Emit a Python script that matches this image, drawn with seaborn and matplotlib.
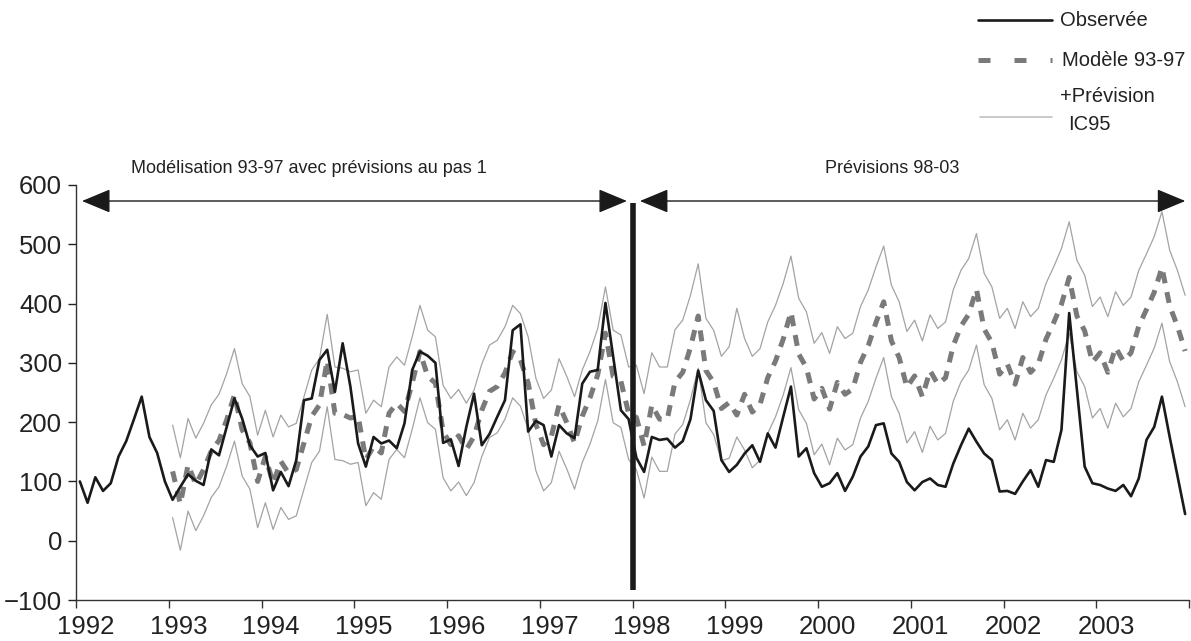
import numpy as np
import pandas as pd
import matplotlib
matplotlib.use("Agg")
import matplotlib.pyplot as plt
import seaborn as sns
from matplotlib.patches import FancyArrowPatch
from matplotlib.lines import Line2D

# Monthly series, Jan 1992 - Dec 2003
first_year = 1992
last_year = 2003
model_start = "1993-01"
split_year = 1998

obs = [
    100, 64, 107, 84, 97, 142, 168, 205, 243, 175, 148, 100,   # 1992
    69, 91, 112, 101, 94, 154, 144, 192, 240, 206, 161, 142,   # 1993
    148, 85, 116, 92, 136, 237, 240, 305, 322, 251, 333, 260,  # 1994
    164, 125, 175, 164, 169, 156, 198, 288, 319, 312, 300, 165,  # 1995
    171, 126, 192, 248, 161, 180, 209, 237, 355, 365, 184, 202,  # 1996
    195, 142, 195, 181, 173, 265, 285, 288, 401, 310, 220, 205,  # 1997
    140, 116, 175, 170, 172, 157, 168, 205, 287, 237, 219, 136,  # 1998
    116, 128, 147, 161, 133, 181, 157, 209, 260, 142, 156, 114,  # 1999
    91, 97, 114, 84, 108, 142, 159, 195, 198, 147, 133, 99,    # 2000
    85, 99, 105, 94, 91, 130, 161, 189, 167, 147, 136, 83,     # 2001
    84, 79, 100, 119, 91, 136, 133, 187, 384, 255, 125, 97,    # 2002
    94, 88, 84, 94, 75, 105, 170, 192, 243, 175, 110, 45,      # 2003
]

# Model 93-97 (one-step) + forecast 98-03, Jan 1993 - Dec 2003
model = [
    117, 62, 128, 95, 120, 151, 169, 204, 246, 187, 165, 100,
    142, 97, 134, 114, 120, 165, 210, 229, 304, 215, 213, 207,
    210, 137, 159, 148, 215, 232, 218, 266, 319, 277, 266, 184,
    162, 177, 154, 176, 220, 252, 260, 283, 319, 305, 266, 196,
    162, 176, 229, 199, 165, 210, 241, 280, 350, 277, 269, 215,
    208, 160, 229, 205, 205, 268, 284, 326, 379, 287, 267, 223,
    233, 212, 247, 217, 230, 275, 303, 340, 386, 315, 292, 239,
    257, 222, 267, 247, 256, 301, 329, 368, 403, 337, 309, 259,
    278, 243, 287, 264, 275, 329, 362, 382, 424, 357, 334, 281,
    298, 264, 309, 284, 298, 340, 368, 399, 444, 379, 354, 301,
    317, 284, 326, 303, 317, 362, 390, 419, 461, 396, 362, 320,
]

ic_high = [
    195, 140, 206, 173, 198, 229, 247, 282, 324, 265, 243, 178,
    220, 175, 212, 192, 198, 243, 288, 307, 382, 293, 291, 285,
    288, 215, 237, 226, 293, 310, 296, 344, 397, 355, 344, 262,
    240, 255, 232, 254, 298, 330, 338, 361, 397, 383, 344, 274,
    240, 254, 307, 277, 243, 288, 319, 358, 428, 355, 347, 293,
    296, 248, 317, 293, 293, 356, 372, 414, 467, 375, 355, 311,
    327, 392, 341, 311, 324, 369, 397, 434, 480, 409, 386, 333,
    351, 316, 361, 341, 350, 395, 423, 462, 497, 431, 403, 353,
    372, 337, 381, 358, 369, 423, 456, 476, 518, 451, 428, 375,
    392, 358, 403, 378, 392, 434, 462, 493, 538, 473, 448, 395,
    411, 378, 420, 397, 411, 456, 484, 513, 555, 490, 456, 414,
]

ic_low = [
    39, -16, 50, 17, 42, 73, 91, 126, 168, 109, 87, 22,
    64, 19, 56, 36, 42, 87, 132, 151, 226, 137, 135, 129,
    132, 59, 81, 70, 137, 154, 140, 188, 241, 199, 188, 106,
    84, 99, 76, 98, 142, 174, 182, 205, 241, 227, 188, 118,
    84, 98, 151, 121, 87, 132, 163, 202, 272, 199, 191, 137,
    120, 72, 141, 117, 117, 180, 196, 238, 291, 199, 179, 135,
    139, 175, 153, 123, 136, 181, 209, 246, 292, 221, 198, 145,
    163, 128, 173, 153, 162, 207, 235, 274, 309, 243, 215, 165,
    184, 149, 193, 170, 181, 235, 268, 288, 330, 263, 240, 187,
    204, 170, 215, 190, 204, 246, 274, 305, 350, 285, 260, 207,
    223, 190, 232, 209, 223, 268, 296, 325, 367, 302, 268, 226,
]

year_labels = [str(y) for y in range(first_year, last_year + 1)]

sns.set_theme(style="ticks")
plt.rcParams["font.family"] = ["Liberation Sans", "DejaVu Sans"]

# build the tables
months = pd.period_range(f"{first_year}-01", f"{last_year}-12", freq="M")
df_obs = pd.DataFrame({"t": months.year + (months.month - 0.5) / 12, "value": obs})
fc_months = pd.period_range(model_start, f"{last_year}-12", freq="M")
df_fc = pd.DataFrame({
    "t": fc_months.year + (fc_months.month - 0.5) / 12,
    "model": model,
    "high": ic_high,
    "low": ic_low,
})

W, H = 1191, 641
fig = plt.figure(figsize=(W / 100, H / 100), dpi=100)
ax = fig.add_axes([76 / W, 41 / H, 1113 / W, 415 / H])

ic_color = "#a3a3a3"
model_color = "#7a7a7a"
obs_color = "#1a1a1a"
text_color = "#222222"

sns.lineplot(data=df_fc, x="t", y="high", color=ic_color, lw=0.9, ax=ax,
             estimator=None, errorbar=None)
sns.lineplot(data=df_fc, x="t", y="low", color=ic_color, lw=0.9, ax=ax,
             estimator=None, errorbar=None)
sns.lineplot(data=df_fc, x="t", y="model", color=model_color, lw=3.6, ax=ax,
             linestyle=(0, (2.2, 1.8)), estimator=None, errorbar=None)
sns.lineplot(data=df_obs, x="t", y="value", color=obs_color, lw=1.9, ax=ax,
             estimator=None, errorbar=None)

# separation between fitting and forecasting periods
ax.plot([split_year, split_year], [-83, 570], color=obs_color, lw=4,
        solid_capstyle="butt", zorder=5)

for x0, x1 in [(1992.065, 1997.94), (1998.08, 2003.96)]:
    arr = FancyArrowPatch((x0, 573), (x1, 573),
                          arrowstyle="<|-|>,head_length=18,head_width=7.5",
                          mutation_scale=1, lw=1, color=obs_color,
                          shrinkA=0, shrinkB=0, clip_on=False, zorder=6)
    ax.add_patch(arr)

ax.text(1994.51, 628, "Modélisation 93-97 avec prévisions au pas 1",
        ha="center", va="center", fontsize=13, color=text_color, clip_on=False)
ax.text(2000.80, 628, "Prévisions 98-03", ha="center", va="center",
        fontsize=13, color=text_color, clip_on=False)

# axes
ax.set_xlim(first_year, last_year + 1)
ax.set_ylim(-100, 600)
ax.set_yticks(range(-100, 601, 100))
ax.set_xticks(range(first_year, last_year + 2))
ax.set_xticklabels([])
ax.set_xticks([int(y) + 0.105 for y in year_labels], year_labels, minor=True)
ax.tick_params(axis="x", which="minor", length=0, labelsize=18.5, pad=11,
               colors=text_color)
ax.tick_params(axis="x", which="major", length=6, width=1, color="#333333")
ax.tick_params(axis="y", length=6, width=1, labelsize=18.5, colors=text_color,
               pad=4)
ax.set_xlabel("")
ax.set_ylabel("")
sns.despine(ax=ax)
for s in ["left", "bottom"]:
    ax.spines[s].set_color("#333333")
    ax.spines[s].set_linewidth(1)

# legend drawn by hand (top right)
def fy(y):
    return 1 - y / H

fig.add_artist(Line2D([978 / W, 1052 / W], [fy(20)] * 2, color=obs_color, lw=1.9))
fig.text(1060 / W, fy(20), "Observée", ha="left", va="center", fontsize=14.5,
         color=text_color)
fig.add_artist(Line2D([978 / W, 1052 / W], [fy(60)] * 2, color=model_color,
                      lw=3.6, linestyle=(0, (2.4, 4.8))))
fig.text(1062 / W, fy(60), "Modèle 93-97", ha="left", va="center",
         fontsize=14.5, color=text_color)
fig.text(1060 / W, fy(97), "+Prévision", ha="left", va="center",
         fontsize=14.5, color=text_color)
fig.add_artist(Line2D([980 / W, 1052 / W], [fy(117)] * 2, color="#c0c0c0", lw=1.2))
fig.text(1068 / W, fy(124), "IC95", ha="left", va="center", fontsize=14.5,
         color=text_color)

fig.savefig("out.png", dpi=100)
